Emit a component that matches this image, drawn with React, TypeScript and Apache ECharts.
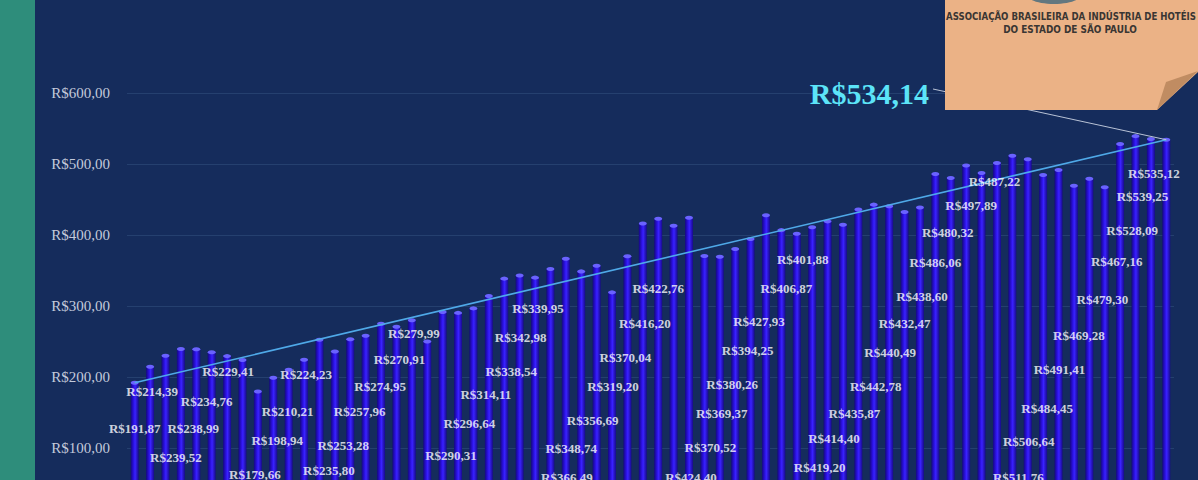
import React, { useEffect, useRef } from "react";
import * as echarts from "echarts";

const prices: number[] = [
  191.87, 214.39, 230.0, 239.52, 238.99, 234.76, 229.41, 224.0, 179.66, 198.94,
  210.21, 224.23, 252.5, 235.8, 253.28, 257.96, 274.95, 270.91, 279.99, 250.0,
  291.5, 290.31, 296.64, 314.11, 338.54, 342.98, 339.95, 352.0, 366.49, 348.74,
  356.69, 319.2, 370.04, 416.2, 422.76, 413.0, 424.4, 370.52, 369.37, 380.26,
  394.25, 427.93, 406.87, 401.88, 411.0, 419.2, 414.4, 435.87, 442.78, 440.49,
  432.47, 438.6, 486.06, 480.32, 497.89, 487.22, 501.5, 511.76, 506.64, 484.45,
  491.41, 469.28, 479.3, 467.16, 528.09, 539.25, 535.12, 534.14,
];

const periods: string[] = prices.map((_, i) => String(i + 1));

const yTicks = { min: 0, max: 600, step: 100 };

// Which bars carry a visible data label
const labelledBars: number[] = [
  0, 1, 3, 4, 5, 6, 8, 9, 10, 11, 13, 14, 15, 16, 17, 18, 21, 22, 23, 24, 25, 26,
  28, 29, 30, 31, 32, 33, 34, 36, 37, 38, 39, 40, 41, 42, 43, 45, 46, 47, 48, 49,
  50, 51, 52, 53, 54, 55, 57, 58, 59, 60, 61, 62, 63, 64, 65, 66,
];
// Layout of those labels: height on the value scale, and horizontal shift (px)
const labelLevels: number[] = [
  128, 179, 87, 128, 165, 208, 63, 111, 152, 203, 68, 103, 152, 186, 225, 261, 89, 135, 176, 208, 255, 296,
  59, 99, 139, 186, 228, 275, 325, 59, 101, 148, 190, 238, 278, 324, 366, 72, 113, 149, 186, 235,
  275, 313, 361, 404, 442, 475, 59, 109, 155, 210, 258, 309, 362, 406, 454, 487,
];
const labelShift: number[] = [
  0, 2, -5, -3, -5, 1, -3, 4, -1, 2, -6, -7, -6, -1, 3, 2, -7, -4, -3, 7, 1, 3,
  1, -10, -4, 1, -2, 2, 0, 2, 6, 2, -3, -3, -7, 5, 6, -8, -9, -4, 2, 1,
  0, 2, 0, -3, 5, 13, 6, 1, 4, 1, 5, 13, 12, 12, 7, 3,
];

const fmt = (v: number) => "R$" + v.toFixed(2).replace(".", ",");

const NAVY = "#152c5c";
const TEAL = "#2e8d7b";
const NOTE_FONT = "Liberation Sans Narrow, DejaVu Sans Condensed, sans-serif";

export default function App() {
  const ref = useRef<HTMLDivElement>(null);

  useEffect(() => {
    if (!ref.current) return;
    const chart = echarts.init(ref.current, null, { renderer: "svg" });
    const last = prices.length - 1;

    chart.setOption({
      animation: false,
      backgroundColor: NAVY,
      grid: { left: 127, right: 24, top: 93, bottom: 21 },
      xAxis: {
        type: "category",
        data: periods,
        show: false,
        boundaryGap: true,
      },
      yAxis: {
        type: "value",
        min: yTicks.min,
        max: yTicks.max,
        interval: yTicks.step,
        axisLine: { show: false },
        axisTick: { show: false },
        axisLabel: {
          formatter: (v: number) => fmt(v),
          color: "#c3cadb",
          fontFamily: "Liberation Serif",
          fontSize: 15,
          margin: 17,
          showMinLabel: false,
        },
        splitLine: { lineStyle: { color: "#25406f", width: 1 } },
      },
      series: [
        {
          type: "bar",
          data: prices,
          barWidth: 8,
          barGap: "-100%",
          z: 2,
          itemStyle: {
            color: new echarts.graphic.LinearGradient(0, 0, 1, 0, [
              { offset: 0, color: "#15087e" },
              { offset: 0.35, color: "#2a10e0" },
              { offset: 0.55, color: "#3a22ff" },
              { offset: 1, color: "#170a8c" },
            ]),
          },
          markLine: {
            silent: true,
            symbol: ["none", "none"],
            label: { show: false },
            z: 4,
            data: [
              [
                {
                  coord: [0, prices[0]],
                  lineStyle: { color: "#4fa9e8", width: 1.6, type: "solid" },
                },
                { coord: [last, prices[last]] },
              ],
            ],
          },
        },
        {
          type: "pictorialBar",
          data: prices,
          barWidth: 8,
          barGap: "-100%",
          symbol: "circle",
          symbolSize: [8, 4],
          symbolPosition: "end",
          symbolOffset: [0, "-50%"],
          z: 3,
          silent: true,
          itemStyle: { color: "#6a62ff" },
        },
        {
          type: "scatter",
          symbolSize: 1,
          silent: true,
          z: 6,
          itemStyle: { color: "transparent" },
          data: labelledBars.map((b, k) => ({
            value: [b, labelLevels[k]],
            label: { offset: [labelShift[k], 0] },
          })),
          label: {
            show: true,
            position: "inside",
            formatter: (p: any) => fmt(prices[p.value[0]]),
            color: "#ffffff",
            fontWeight: "bold",
            fontFamily: "Liberation Serif",
            fontSize: 13,
          },
        },
      ],
    });

    // callout line from the big label to the last bar's top
    const end = chart.convertToPixel({ gridIndex: 0 }, [last, prices[last]]) as number[];

    chart.setOption({
      graphic: [
        {
          type: "rect",
          z: 1,
          shape: { x: 0, y: 0, width: 35, height: 540 },
          style: { fill: TEAL },
          silent: true,
        },
        {
          type: "line",
          z: 20,
          shape: { x1: 933, y1: 89, x2: end[0], y2: end[1] },
          style: { stroke: "#b9c3d6", lineWidth: 1 },
          silent: true,
        },
        {
          type: "polygon",
          z: 30,
          shape: {
            points: [
              [945, 0],
              [1198, 0],
              [1198, 72],
              [1157, 110],
              [945, 110],
            ],
          },
          style: { fill: "#ebb286" },
          silent: true,
        },
        {
          type: "polygon",
          z: 31,
          shape: {
            points: [
              [1157, 110],
              [1166, 82],
              [1198, 71],
            ],
          },
          style: { fill: "#c08c62" },
          silent: true,
        },
        {
          type: "ellipse",
          z: 31,
          shape: { cx: 1054, cy: -6, rx: 28, ry: 10 },
          style: { fill: "#62777f" },
          silent: true,
        },
        {
          type: "text",
          z: 32,
          x: 1071,
          y: 16,
          scaleX: 0.87,
          style: {
            text: "ASSOCIAÇÃO BRASILEIRA DA INDÚSTRIA DE HOTÉIS",
            fill: "#3a3633",
            fontSize: 11,
            fontWeight: "bold",
            fontFamily: NOTE_FONT,
            align: "center",
            verticalAlign: "middle",
          },
          silent: true,
        },
        {
          type: "text",
          z: 32,
          x: 1070,
          y: 29,
          scaleX: 0.9,
          style: {
            text: "DO ESTADO DE SÃO PAULO",
            fill: "#3a3633",
            fontSize: 11,
            fontWeight: "bold",
            fontFamily: NOTE_FONT,
            align: "center",
            verticalAlign: "middle",
          },
          silent: true,
        },
        {
          type: "text",
          z: 32,
          x: 929,
          y: 93,
          style: {
            text: fmt(prices[last]),
            fill: "#5ce4f8",
            fontSize: 30,
            fontWeight: "bold",
            fontFamily: "Liberation Serif",
            align: "right",
            verticalAlign: "middle",
          },
          silent: true,
        },
      ],
    });

    return () => chart.dispose();
  }, []);

  return (
    <div
      style={{
        position: "fixed",
        left: 0,
        top: 0,
        width: 1198,
        height: 480,
        overflow: "hidden",
        background: NAVY,
      }}
    >
      <div ref={ref} style={{ width: 1198, height: 540 }} />
    </div>
  );
}
